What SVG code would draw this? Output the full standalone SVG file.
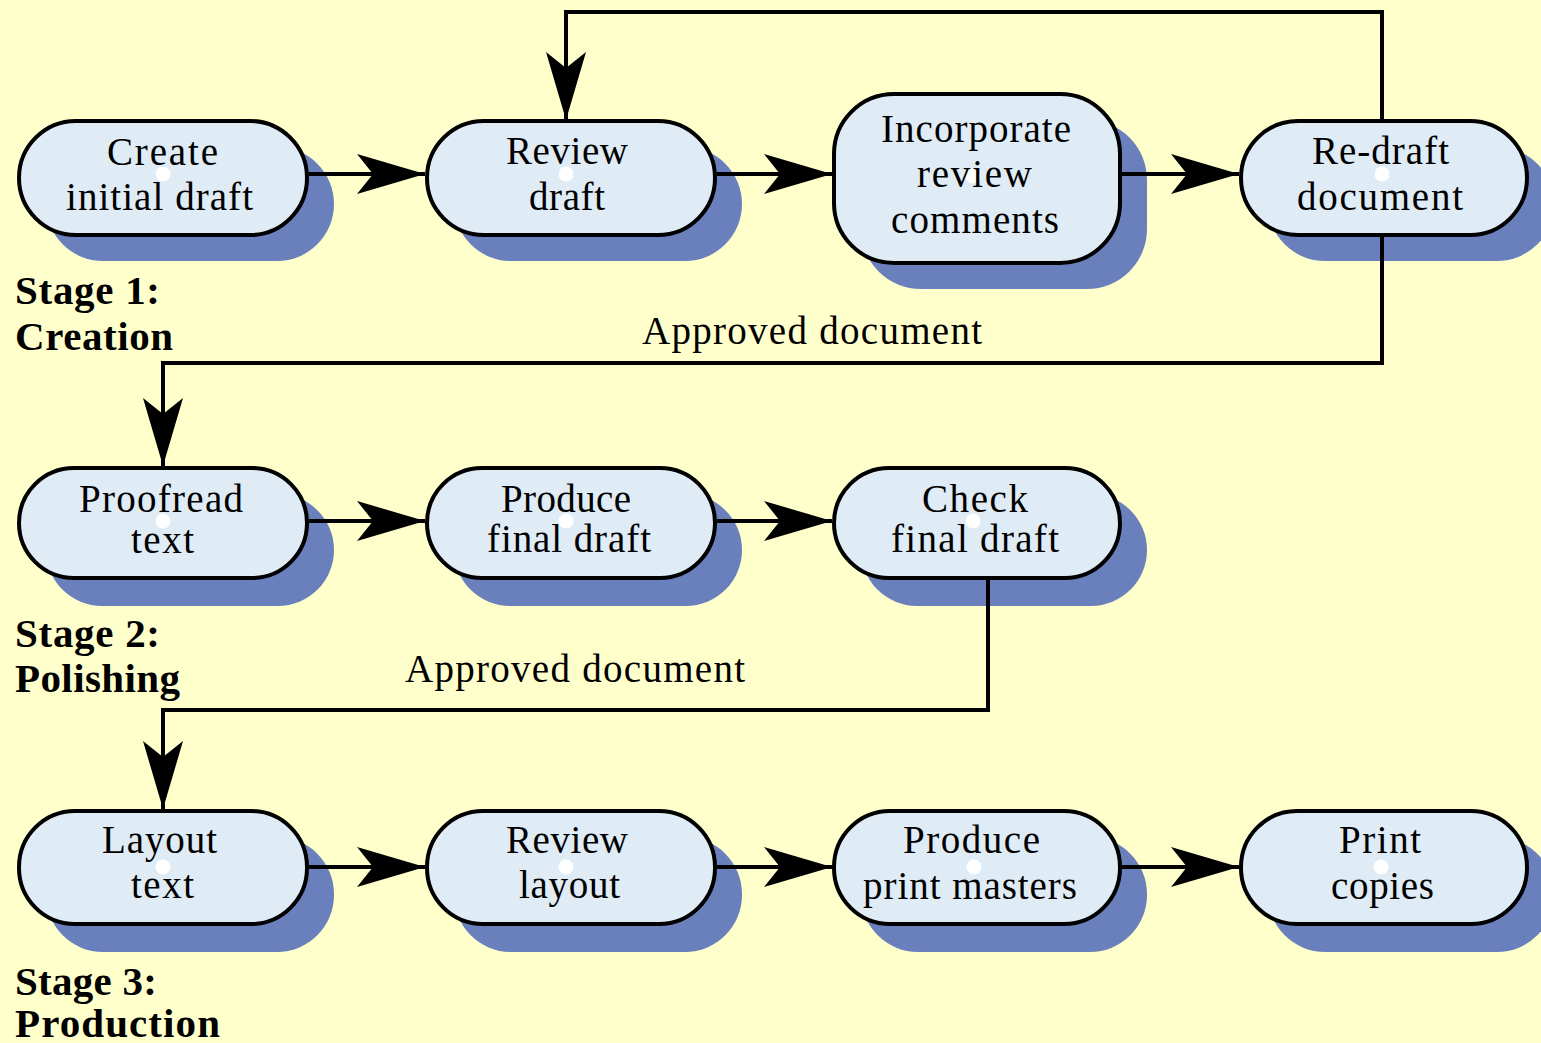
<svg xmlns="http://www.w3.org/2000/svg" width="1541" height="1043" viewBox="0 0 1541 1043">
<defs>
<style>
.bg{fill:#FFFFCC}
.sh{fill:#6A80BD}
.nd{fill:#DFEBF5;stroke:#000;stroke-width:4}
.dot{fill:#FFFFFF}
.t{font-family:"Liberation Serif","Times New Roman",serif;font-size:39px;fill:#000;text-anchor:middle}
.lbl{font-family:"Liberation Serif","Times New Roman",serif;font-size:39px;fill:#000}
.stage{font-family:"Liberation Serif","Times New Roman",serif;font-size:41px;font-weight:bold;fill:#000}
.c{fill:none;stroke:#000;stroke-width:4;marker-end:url(#ah)}
</style>
<marker id="ah" viewBox="0 0 68 40" refX="68" refY="20" markerWidth="68" markerHeight="40" markerUnits="userSpaceOnUse" orient="auto">
<path d="M0,0 L68,20 L0,40 L16,20 Z" fill="#000"/>
</marker>
</defs>
<rect class="bg" x="0" y="0" width="1541" height="1043"/>

<g id="n-create">
<rect class="sh" x="46" y="147" width="288" height="114" rx="57"/>
<rect class="nd" x="19" y="121" width="288" height="114" rx="57"/>
<circle class="dot" cx="163" cy="174" r="7.5"/>
<text class="t" x="162.5" y="165" textLength="111" lengthAdjust="spacing">Create</text>
<text class="t" x="159.5" y="210" textLength="187" lengthAdjust="spacing">initial draft</text>
</g>
<g id="n-review-draft">
<rect class="sh" x="454" y="147" width="288" height="114" rx="57"/>
<rect class="nd" x="427" y="121" width="288" height="114" rx="57"/>
<circle class="dot" cx="566" cy="174" r="7.5"/>
<text class="t" x="567" y="164" textLength="122" lengthAdjust="spacing">Review</text>
<text class="t" x="567" y="210" textLength="76" lengthAdjust="spacing">draft</text>
</g>
<g id="n-incorporate">
<rect class="sh" x="861" y="120" width="286" height="169" rx="60"/>
<rect class="nd" x="834" y="94" width="286" height="169" rx="60"/>
<circle class="dot" cx="973" cy="176" r="7.5"/>
<text class="t" x="976" y="142" textLength="190" lengthAdjust="spacing">Incorporate</text>
<text class="t" x="974.5" y="187" textLength="115" lengthAdjust="spacing">review</text>
<text class="t" x="975" y="233" textLength="168" lengthAdjust="spacing">comments</text>
</g>
<g id="n-redraft">
<rect class="sh" x="1268" y="147" width="286" height="114" rx="57"/>
<rect class="nd" x="1241" y="121" width="286" height="114" rx="57"/>
<circle class="dot" cx="1382" cy="174" r="7.5"/>
<text class="t" x="1380.5" y="164" textLength="137" lengthAdjust="spacing">Re-draft</text>
<text class="t" x="1380" y="210" textLength="166" lengthAdjust="spacing">document</text>
</g>

<g id="n-proofread">
<rect class="sh" x="46" y="494" width="288" height="112" rx="56"/>
<rect class="nd" x="19" y="468" width="288" height="110" rx="55"/>
<circle class="dot" cx="163" cy="521" r="7.5"/>
<text class="t" x="161" y="512" textLength="164" lengthAdjust="spacing">Proofread</text>
<text class="t" x="162.5" y="553" textLength="63" lengthAdjust="spacing">text</text>
</g>
<g id="n-produce-final">
<rect class="sh" x="454" y="494" width="288" height="112" rx="56"/>
<rect class="nd" x="427" y="468" width="288" height="110" rx="55"/>
<circle class="dot" cx="566" cy="521" r="7.5"/>
<text class="t" x="566" y="512" textLength="130" lengthAdjust="spacing">Produce</text>
<text class="t" x="569" y="552" textLength="164" lengthAdjust="spacing">final draft</text>
</g>
<g id="n-check">
<rect class="sh" x="861" y="494" width="286" height="112" rx="56"/>
<rect class="nd" x="834" y="468" width="286" height="110" rx="55"/>
<circle class="dot" cx="973" cy="521" r="7.5"/>
<text class="t" x="975" y="512" textLength="106" lengthAdjust="spacing">Check</text>
<text class="t" x="975" y="552" textLength="168" lengthAdjust="spacing">final draft</text>
</g>

<g id="n-layout">
<rect class="sh" x="46" y="837" width="288" height="115" rx="57"/>
<rect class="nd" x="19" y="811" width="288" height="113" rx="56"/>
<circle class="dot" cx="163" cy="867" r="7.5"/>
<text class="t" x="159.5" y="853" textLength="115" lengthAdjust="spacing">Layout</text>
<text class="t" x="162.5" y="898" textLength="63" lengthAdjust="spacing">text</text>
</g>
<g id="n-review-layout">
<rect class="sh" x="454" y="837" width="288" height="115" rx="57"/>
<rect class="nd" x="427" y="811" width="288" height="113" rx="56"/>
<circle class="dot" cx="566" cy="867" r="7.5"/>
<text class="t" x="567" y="853" textLength="122" lengthAdjust="spacing">Review</text>
<text class="t" x="569.5" y="898" textLength="101" lengthAdjust="spacing">layout</text>
</g>
<g id="n-print-masters">
<rect class="sh" x="861" y="837" width="286" height="115" rx="57"/>
<rect class="nd" x="834" y="811" width="286" height="113" rx="56"/>
<circle class="dot" cx="974" cy="867" r="7.5"/>
<text class="t" x="971.5" y="853" textLength="137" lengthAdjust="spacing">Produce</text>
<text class="t" x="970" y="899" textLength="214" lengthAdjust="spacing">print masters</text>
</g>
<g id="n-print-copies">
<rect class="sh" x="1268" y="837" width="286" height="115" rx="57"/>
<rect class="nd" x="1241" y="811" width="286" height="113" rx="56"/>
<circle class="dot" cx="1381" cy="867" r="7.5"/>
<text class="t" x="1380" y="853" textLength="82" lengthAdjust="spacing">Print</text>
<text class="t" x="1382.5" y="899" textLength="103" lengthAdjust="spacing">copies</text>
</g>

<g id="stages">
<text class="stage" x="15" y="304" textLength="145" lengthAdjust="spacing">Stage 1:</text>
<text class="stage" x="15" y="350" textLength="158" lengthAdjust="spacing">Creation</text>
<text class="stage" x="15" y="647" textLength="145" lengthAdjust="spacing">Stage 2:</text>
<text class="stage" x="15" y="692" textLength="165" lengthAdjust="spacing">Polishing</text>
<text class="stage" x="15" y="995" textLength="142" lengthAdjust="spacing">Stage 3:</text>
<text class="stage" x="15" y="1037" textLength="205" lengthAdjust="spacing">Production</text>
</g>

<g id="connectors">
<path class="c" d="M309,174 H425"/>
<path class="c" d="M717,174 H832"/>
<path class="c" d="M1122,174 H1239"/>
<path class="c" d="M1382,119 V12 H566 V120"/>
<path class="c" d="M1382,237 V363 H163 V466"/>
<path class="c" d="M309,521 H425"/>
<path class="c" d="M717,521 H832"/>
<path class="c" d="M988,580 V710 H163 V809"/>
<path class="c" d="M309,867 H425"/>
<path class="c" d="M717,867 H832"/>
<path class="c" d="M1122,867 H1239"/>
<text class="lbl" x="642" y="344" textLength="340" lengthAdjust="spacing">Approved document</text>
<text class="lbl" x="405" y="682" textLength="340" lengthAdjust="spacing">Approved document</text>
</g>
</svg>
